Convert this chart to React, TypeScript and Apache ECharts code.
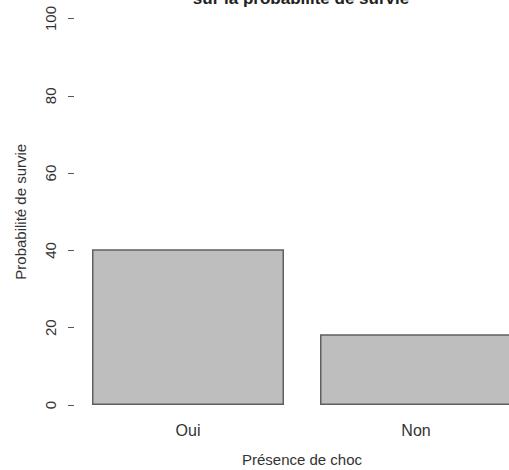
import React, { useEffect, useRef } from "react";
import * as echarts from "echarts";

const categories = ["Oui", "Non"];
const survie = [40.3, 18.3];
const titleText = "sur la probabilité de survie";
const xName = "Présence de choc";
const yName = "Probabilité de survie";

export default function App() {
  const ref = useRef<HTMLDivElement>(null);
  useEffect(() => {
    if (!ref.current) return;
    const chart = echarts.init(ref.current, null, { renderer: "svg" });
    const font = "Liberation Sans, Arial, Helvetica, sans-serif";
    chart.setOption({
      animation: false,
      backgroundColor: "#ffffff",
      textStyle: { fontFamily: font },
      grid: { left: 74, width: 456, top: 18.5, bottom: 65, outerBoundsMode: "none", containLabel: false },
      graphic: [
        {
          type: "text",
          x: 301,
          y: -2,
          style: {
            text: titleText,
            fontFamily: font,
            fontSize: 17,
            fontWeight: "bold",
            fill: "#222",
            align: "center",
            verticalAlign: "middle",
          },
        },
      ],
      xAxis: {
        type: "category",
        data: categories,
        axisLine: { show: false },
        axisTick: { show: false },
        axisLabel: { margin: 17, fontSize: 16, color: "#333", fontFamily: font },
        name: xName,
        nameLocation: "middle",
        nameGap: 47,
        nameTextStyle: { fontSize: 15, color: "#333", fontFamily: font },
      },
      yAxis: {
        type: "value",
        min: 0,
        max: 100,
        interval: 20,
        axisLine: { show: false },
        axisTick: { show: true, length: 6, lineStyle: { color: "#555" } },
        splitLine: { show: false },
        axisLabel: { rotate: 90, margin: 16, fontSize: 15, color: "#333", fontFamily: font },
        name: yName,
        nameLocation: "middle",
        nameGap: 46,
        nameTextStyle: { fontSize: 15, color: "#333", fontFamily: font },
      },
      series: [
        {
          type: "bar",
          data: survie,
          barWidth: 192,
          itemStyle: { color: "#bebebe", borderColor: "#5f5f5f", borderWidth: 1.5 },
        },
      ],
    });
    return () => chart.dispose();
  }, []);
  return (
    <div
      ref={ref}
      style={{ position: "fixed", left: 0, top: 0, width: 509, height: 470 }}
    />
  );
}
